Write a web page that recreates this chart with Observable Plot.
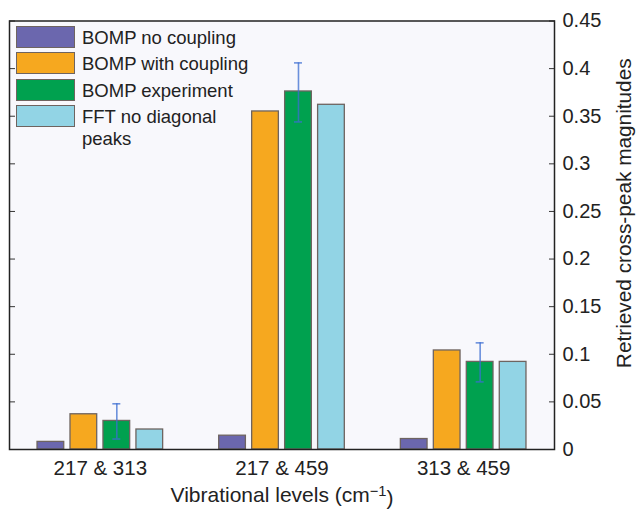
<!DOCTYPE html>
<html>
<head>
<meta charset="utf-8">
<script src="https://cdn.jsdelivr.net/npm/d3@7"></script>
<script src="https://cdn.jsdelivr.net/npm/@observablehq/plot@0.6"></script>
<style>
  html, body { margin: 0; padding: 0; background: #fff; }
  #wrap { position: relative; width: 638px; height: 509px; font-family: "Liberation Sans", Arial, sans-serif; color: #222; }
  #legend { position: absolute; left: 0; top: 0; }
  .sw { position: absolute; left: 16px; width: 57px; height: 20px; border: 1.3px solid #6e6460; }
  .lt { position: absolute; left: 82px; width: 176px; font-size: 18.5px; line-height: 22px; color: #222; }
</style>
</head>
<body>
<div id="wrap"><div id="legend"></div></div>
<script>
// ---- data ----
const groups = ["217 & 313", "217 & 459", "313 & 459"];
const seriesNames = ["BOMP no coupling", "BOMP with coupling", "BOMP experiment", "FFT no diagonal peaks"];
const bompNoCoupling   = [0.008, 0.0145, 0.011];
const bompWithCoupling = [0.037, 0.355, 0.104];
const bompExperiment   = [0.030, 0.376, 0.092];
const fftNoDiagonal    = [0.021, 0.362, 0.092];
const experimentErrLow  = [0.011, 0.344, 0.071];
const experimentErrHigh = [0.048, 0.406, 0.112];
const yTicks = [0, 0.05, 0.1, 0.15, 0.2, 0.25, 0.3, 0.35, 0.4, 0.45];
const colors = ["#6b67ae", "#f6a81f", "#00a14f", "#92d4e5"];
const xLabel = "Vibrational levels (cm";
const yLabel = "Retrieved cross-peak magnitudes";

// ---- build table ----
const seriesValues = [bompNoCoupling, bompWithCoupling, bompExperiment, fftNoDiagonal];
const rows = [];
groups.forEach((g, gi) => seriesValues.forEach((vals, si) => {
  rows.push({group: g, gi, si, series: seriesNames[si], value: vals[gi]});
}));
const step = 0.1815, half = 0.0735, cap = 0.022;
const center = d => d.gi + 1 + (d.si - 1.5) * step;
const errRows = groups.map((g, gi) => ({gi, si: 2, low: experimentErrLow[gi], high: experimentErrHigh[gi]}));

const font = "'Liberation Sans', Arial, sans-serif";
const errColor = "rgba(60,110,210,0.75)";

const chart = Plot.plot({
  width: 638,
  height: 509,
  marginLeft: 9,
  marginRight: 84,
  marginTop: 20.5,
  marginBottom: 60,
  style: {fontFamily: font, fontSize: "20.5px", color: "#222", background: "transparent", overflow: "visible"},
  x: {domain: [0.5, 3.5]},
  y: {domain: [0, 0.45]},
  marks: [
    Plot.frame({fill: "#f8f8fc", stroke: null}),
    Plot.rectY(rows, {
      x1: d => center(d) - half,
      x2: d => center(d) + half,
      y1: 0,
      y2: "value",
      fill: d => colors[d.si],
      stroke: "#6e6460",
      strokeWidth: 1.3
    }),
    Plot.ruleX(errRows, {x: center, y1: "low", y2: "high", stroke: errColor, strokeWidth: 1.6}),
    Plot.ruleY(errRows, {y: "low", x1: d => center(d) - cap, x2: d => center(d) + cap, stroke: errColor, strokeWidth: 1.6}),
    Plot.ruleY(errRows, {y: "high", x1: d => center(d) - cap, x2: d => center(d) + cap, stroke: errColor, strokeWidth: 1.6}),
    Plot.axisX({ticks: [1, 2, 3], tickFormat: i => groups[i - 1], tickSize: 0, tickPadding: 11, label: null, fontSize: 20.5}),
    Plot.axisY({anchor: "right", ticks: yTicks, tickFormat: d => String(d), tickSize: 0, tickPadding: 8, label: null, fontSize: 20}),
    Plot.axisY({anchor: "right", ticks: yTicks, tickSize: 6, insetRight: 6, text: null, label: null, stroke: "#333"}),
    Plot.axisY({anchor: "left", ticks: yTicks, tickSize: 6, insetLeft: 6, text: null, label: null, stroke: "#333"}),
    Plot.frame({stroke: "#222", strokeWidth: 1.5}),
    Plot.text([xLabel], {frameAnchor: "bottom", dy: 46, lineAnchor: "middle", textAnchor: "middle", fontSize: 21, fill: "#222"}),
    Plot.text([yLabel], {frameAnchor: "right", dx: 70, dy: -22, rotate: -90, textAnchor: "middle", lineAnchor: "middle", fontSize: 20.8, fill: "#222"})
  ]
});

// superscript on x label
d3.select(chart).selectAll("text").each(function() {
  if (this.textContent === xLabel) {
    const t = d3.select(this);
    t.append("tspan").attr("dy", "-0.45em").attr("font-size", "0.7em").text("\u22121");
    t.append("tspan").attr("dy", "0.45em").text(")");
  }
});

const wrap = document.getElementById("wrap");
wrap.insertBefore(chart, wrap.firstChild);
chart.style.position = "absolute";
chart.style.left = "0";
chart.style.top = "0";

// legend inside the plot
const legend = document.getElementById("legend");
seriesNames.forEach((name, i) => {
  const top = 26 + i * 26.3;
  const sw = document.createElement("div");
  sw.className = "sw";
  sw.style.top = top + "px";
  sw.style.background = colors[i];
  legend.appendChild(sw);
  const lt = document.createElement("div");
  lt.className = "lt";
  lt.style.top = (top + 1) + "px";
  lt.textContent = name;
  legend.appendChild(lt);
});
</script>
</body>
</html>
